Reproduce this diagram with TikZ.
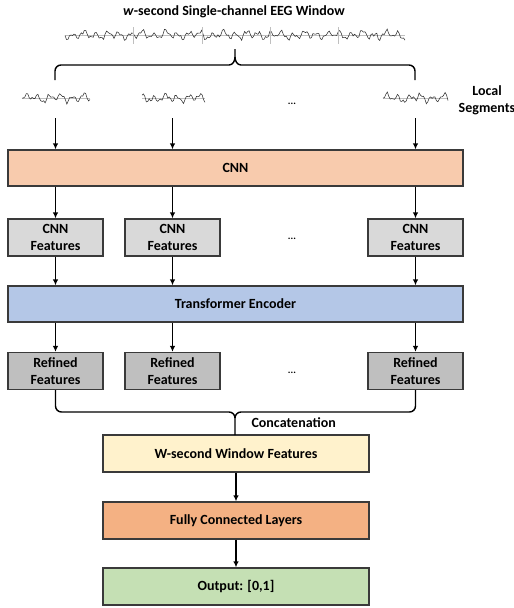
\documentclass[tikz,border=0pt]{standalone}
\usepackage{fontspec}
\setmainfont{Carlito}
\usetikzlibrary{calc,arrows.meta}

\definecolor{cnnfill}{HTML}{F8CBAD}
\definecolor{featfill}{HTML}{D9D9D9}
\definecolor{transfill}{HTML}{B4C7E7}
\definecolor{reffill}{HTML}{BFBFBF}
\definecolor{winfill}{HTML}{FFF2CC}
\definecolor{fcfill}{HTML}{F4B183}
\definecolor{outfill}{HTML}{C5E0B4}
\definecolor{boxline}{HTML}{3A3A3A}

\tikzset{
  box/.style={draw=boxline, line width=1.2pt, inner sep=0pt, align=center,
    font=\bfseries\fontsize{14}{17}\selectfont},
  widebox/.style={box, minimum width=455pt, minimum height=36pt},
  featbox/.style={box, minimum width=95pt, minimum height=37pt},
  midbox/.style={box, minimum width=266pt, minimum height=37pt},
  arr/.style={-{Latex[length=6pt,width=5.5pt]}, line width=1.6pt},
  brace/.style={line width=1.4pt},
  eeg/.style={line width=0.55pt, black!80},
  grid/.style={line width=0.4pt, black!25},
  lbl/.style={font=\bfseries\fontsize{14}{17}\selectfont, align=center},
  dots/.style={font=\bfseries\fontsize{10}{12}\selectfont}
}

\newcommand{\eegtrace}[5]{%
  \pgfmathsetseed{#5}
  \draw[grid] (#1,#3) -- (#2,#3);
  \draw[eeg] plot[domain=#1:#2, samples=#4, variable=\t]
    (\t, {#3 - 2.8*sin(31*mod(\t,11.613)) - 1.7*sin(68*mod(\t,5.2941)+40)
      - 1.5*sin(13*mod(\t,27.692)+70) - 0.9*rand});
}

\begin{document}
\begin{tikzpicture}[x=1pt, y=-1pt]
  \useasboundingbox (0,0) rectangle (514,608);

  \node[lbl] (title) at (234,12) {\textit{w}-second Single-channel EEG Window};
  \eegtrace{65}{405}{35}{230}{3}
  \foreach \x in {133,202,270,338}
    \draw[grid] (\x,27) -- (\x,44);

  \coordinate (top) at (235,49);
  \draw[brace] (top) -- (235,57) to[out=-90,in=0] (229,65) -- (61,65)
    to[out=180,in=90] (55,71) -- (55,80);
  \draw[brace] (235,57) to[out=-90,in=180] (241,65) -- (409,65)
    to[out=0,in=90] (415,71) -- (415,80);

  \eegtrace{22}{90}{98}{48}{11}
  \eegtrace{142}{205}{98}{45}{17}
  \eegtrace{383}{448}{98}{46}{23}
  \node[dots] (d0) at (292,104) {...};
  \node[lbl] (local) at (487,100) {Local\\Segments};

  \node[widebox, fill=cnnfill] (cnn) at (235.5,168) {CNN};
  \node[widebox, fill=transfill] (trans) at (235.5,304) {Transformer Encoder};

  \foreach \i/\x in {1/55.5, 2/172.5, 3/415.5} {
    \coordinate (s\i) at (\x,118);
    \node[featbox, fill=featfill] (cf\i) at (\x,237.5) {CNN\\Features};
    \node[featbox, fill=reffill] (rf\i) at (\x,371) {Refined\\Features};
    \draw[arr] (s\i) -- (s\i |- cnn.north);
    \draw[arr] (cnn.south -| cf\i) -- (cf\i.north);
    \draw[arr] (cf\i.south) -- (cf\i |- trans.north);
    \draw[arr] (trans.south -| rf\i) -- (rf\i.north);
  }
  \node[dots] (d1) at (292,239) {...};
  \node[dots] (d2) at (292,373) {...};

  \node[midbox, fill=winfill] (win) at (236,453.5) {W-second Window Features};
  \node[midbox, fill=fcfill] (fc) at (236,520.5) {Fully Connected Layers};
  \node[midbox, fill=outfill] (out) at (236,586.5) {Output: [0,1]};

  \draw[brace] (rf1.south) -- (55.5,406) to[out=-90,in=180] (61.5,412) -- (229,412)
    to[out=0,in=90] (235,418) -- (235,435);
  \draw[brace] (rf3.south) -- (415.5,406) to[out=-90,in=0] (409.5,412) -- (241,412)
    to[out=180,in=90] (235,418);
  \node[lbl, anchor=west] (concat) at (248,423) {Concatenation};

  \draw[arr] (win.south) -- (fc.north);
  \draw[arr] (fc.south) -- (out.north);
\end{tikzpicture}
\end{document}
